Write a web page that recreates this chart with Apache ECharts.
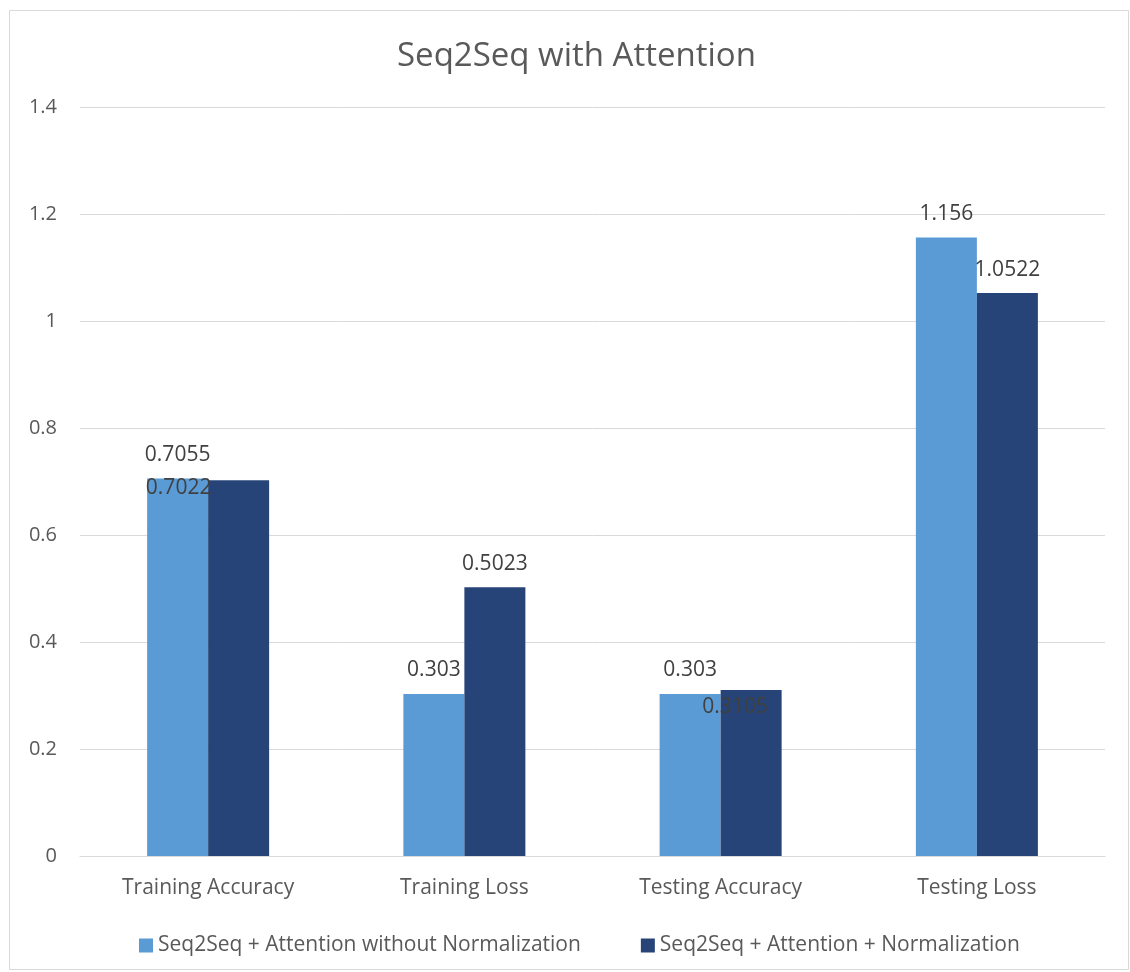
<!DOCTYPE html>
<html>
<head>
<meta charset="utf-8">
<script src="https://cdn.jsdelivr.net/npm/echarts@6/dist/echarts.min.js"></script>
<style>
  html, body { margin: 0; padding: 0; background: #fff; }
  #chart { width: 1130px; height: 972px; }
</style>
</head>
<body>
<div id="chart"></div>
<script>
const categories = ['Training Accuracy', 'Training Loss', 'Testing Accuracy', 'Testing Loss'];
const seriesNames = ['Seq2Seq + Attention without Normalization', 'Seq2Seq + Attention + Normalization'];
const withoutNorm = [0.7055, 0.303, 0.303, 1.156];
const withNorm = [0.7022, 0.5023, 0.3105, 1.0522];
const yTicks = { min: 0, max: 1.4, interval: 0.2 };

const FONT = '"Open Sans", "Liberation Sans", sans-serif';
const TEXT = '#595959';
const GRID = '#D9D9D9';

const labelBase = {
  show: true,
  position: 'top',
  distance: 13,
  color: '#404040',
  fontFamily: FONT,
  fontSize: 21,
  lineHeight: 21
};

// a couple of labels sit nudged off their bars
const labelShift = { 0: [-60, 31], 2: [-16, 41] };

const chart = echarts.init(document.getElementById('chart'), null, { renderer: 'canvas' });
chart.setOption({
  backgroundColor: '#fff',
  animation: false,
  textStyle: { fontFamily: FONT },
  title: {
    text: 'Seq2Seq with Attention',
    left: 392,
    top: 34,
    textStyle: { color: TEXT, fontFamily: FONT, fontSize: 33, fontWeight: 'normal', lineHeight: 36 }
  },
  graphic: [{
    type: 'rect',
    shape: { x: 9.5, y: 10.5, width: 1119, height: 959 },
    style: { fill: 'none', stroke: GRID, lineWidth: 1 },
    silent: true
  }],
  legend: {
    data: seriesNames,
    left: 134,
    top: 930,
    itemWidth: 14,
    itemHeight: 14,
    itemGap: 60,
    icon: 'rect',
    textStyle: { color: TEXT, fontFamily: FONT, fontSize: 21 }
  },
  grid: { left: 80, right: 25, top: 107, bottom: 116, containLabel: false },
  xAxis: {
    type: 'category',
    data: categories,
    axisLine: { lineStyle: { color: GRID, width: 1 } },
    axisTick: { show: false },
    axisLabel: { color: TEXT, fontFamily: FONT, fontSize: 21, lineHeight: 22, margin: 21 }
  },
  yAxis: {
    type: 'value',
    min: yTicks.min,
    max: yTicks.max,
    interval: yTicks.interval,
    axisLine: { show: false },
    axisTick: { show: false },
    splitLine: { lineStyle: { color: GRID, width: 1 } },
    axisLabel: {
      color: TEXT, fontFamily: FONT, fontSize: 20, margin: 23,
      formatter: v => String(Math.round(v * 10) / 10)
    }
  },
  series: [
    {
      name: seriesNames[0],
      type: 'bar',
      data: withoutNorm,
      barWidth: 61,
      barGap: '0%',
      itemStyle: { color: '#5B9BD5' },
      label: labelBase
    },
    {
      name: seriesNames[1],
      type: 'bar',
      data: withNorm.map((v, i) => labelShift[i]
        ? { value: v, label: { offset: labelShift[i] } }
        : v),
      barWidth: 61,
      barGap: '0%',
      itemStyle: { color: '#264478' },
      label: labelBase
    }
  ]
});
</script>
</body>
</html>
